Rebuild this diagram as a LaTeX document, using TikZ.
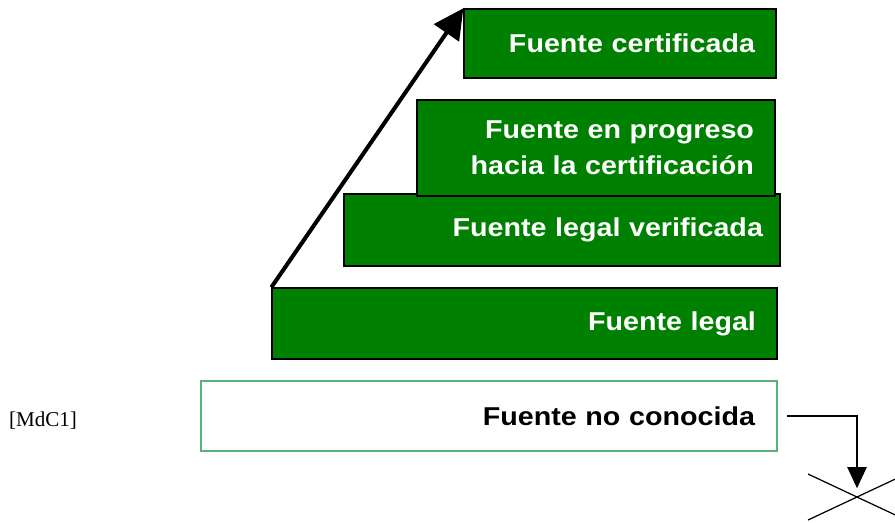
\documentclass[tikz,border=0pt]{standalone}
\usepackage{fontspec}
\usepackage{tikz}
\usetikzlibrary{
    positioning,
    arrows.meta
}
\newfontfamily\boxfont[FakeStretch=1.11]{Liberation Sans}
\newfontfamily\notefont{Liberation Serif}
\definecolor{levelgreen}{RGB}{0,128,0}
\definecolor{paleborder}{RGB}{88,178,128}

\begin{document}
\begin{tikzpicture}[
    x=0.02cm, y=-0.02cm,
    % Estilos de las cajas
    level_box/.style={rectangle, draw=black, line width=0.8pt, fill=levelgreen, text=white,
        inner xsep=0pt, inner ysep=0pt, align=right,
        font=\boxfont\bfseries\fontsize{14.7}{20.4}\selectfont},
    unknown_box/.style={level_box, draw=paleborder, fill=white, text=black, line width=0.9pt},
    note/.style={font=\notefont\fontsize{12}{14}\selectfont},
    % Estilos de flechas
    big_arrow/.style={-{Triangle[length=17pt, width=17pt]}, line width=2.3pt, draw=black},
    link_arrow/.style={-{Triangle[length=12pt, width=11pt]}, line width=0.7pt, draw=black},
    cross_line/.style={line width=0.7pt, draw=black}
]
\useasboundingbox (0,0) rectangle (895,522);

% --- NIVELES ---
\node[level_box, minimum width=6.24cm, minimum height=1.38cm, text width=5.40cm]
    (certified) at (620,43.5) {Fuente certificada};
\node[level_box, minimum width=8.72cm, minimum height=1.44cm, text width=8.04cm]
    (verified) at (562,230) {Fuente legal verificada};
\node[level_box, minimum width=7.16cm, minimum height=1.92cm, text width=6.32cm]
    (progress) at (596,148) {Fuente en progreso\\hacia la certificación};
\node[level_box, minimum width=10.10cm, minimum height=1.42cm, text width=9.26cm]
    (legal) at (524.5,323.5) {Fuente legal};

% --- FUENTE NO CONOCIDA ---
\node[unknown_box, minimum width=11.52cm, minimum height=1.40cm, text width=10.64cm]
    (unknown) at (489,416) {Fuente no conocida};
\node[note] (mdc) at (43,421) {[MdC1]};

% --- FLECHA DE PROGRESO ---
\draw[big_arrow] (legal.north west) -- (certified.north west);

% --- DESCARTE ---
\coordinate (cross) at (857,497);
\draw[cross_line] (808,474) -- (906,520);
\draw[cross_line] (808,520) -- (906,474);
\draw[link_arrow, shorten <=5pt, shorten >=5pt] (unknown.east) -| (cross);

\end{tikzpicture}
\end{document}
